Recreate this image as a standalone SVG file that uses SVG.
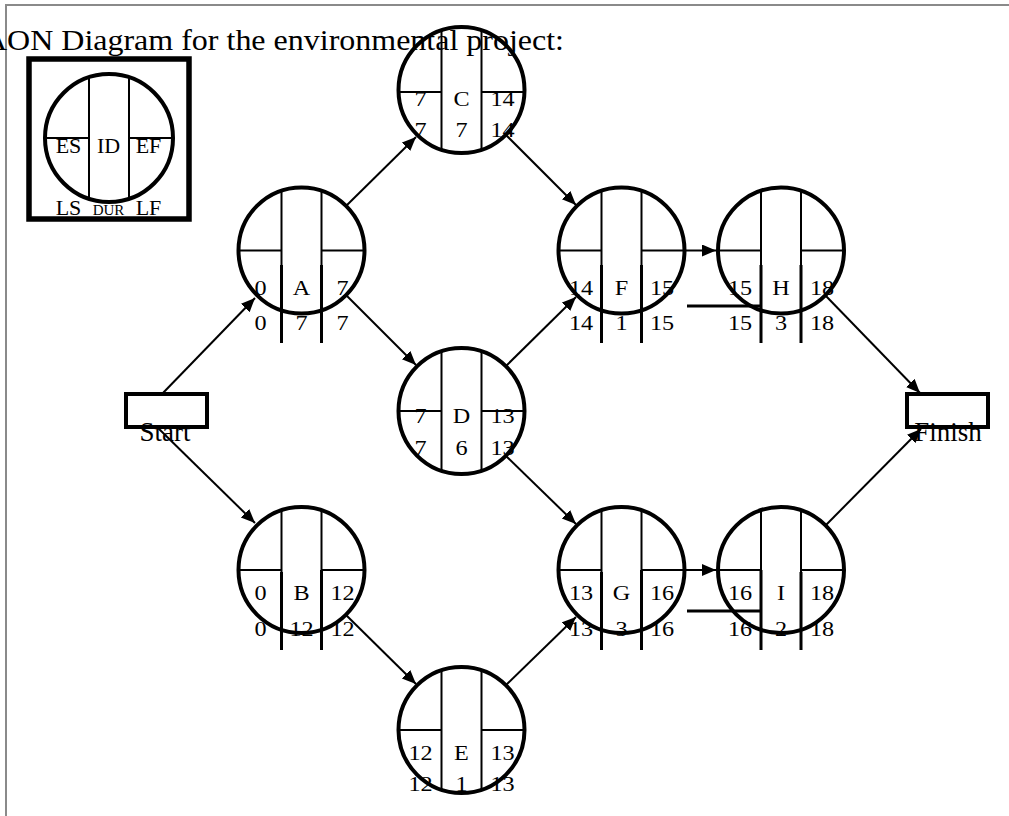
<svg xmlns="http://www.w3.org/2000/svg" width="1009" height="816" viewBox="0 0 1009 816">
<defs>
<marker id="ah" markerUnits="userSpaceOnUse" markerWidth="16" markerHeight="14" refX="14" refY="6" orient="auto">
<path d="M0,0 L14,6 L0,12 z" fill="#000"/>
</marker>
</defs>
<style>
.c{fill:none;stroke:#000;stroke-width:4}
.thin{fill:none;stroke:#000;stroke-width:2}
.thick{fill:none;stroke:#000;stroke-width:3}
.t{font-family:"Liberation Serif","Times New Roman",serif;font-size:22px;fill:#000;text-anchor:middle}
.lg{font-size:22px}
.sm{font-size:15px}
.big{font-size:27px}
.conn line{stroke:#000;stroke-width:2;marker-end:url(#ah)}
.box{fill:#fff;stroke:#000;stroke-width:4}
</style>
<rect x="0" y="0" width="1009" height="816" fill="#fff"/>
<rect x="6" y="5" width="1010" height="820" fill="none" stroke="#8a8a8a" stroke-width="2"/>
<text x="-16" y="50" font-family="'Liberation Serif','Times New Roman',serif" font-size="30" textLength="580" lengthAdjust="spacingAndGlyphs" fill="#000">AON Diagram for the environmental project:</text>

<g id="legend">
<rect x="29" y="59" width="160" height="160" fill="none" stroke="#000" stroke-width="5.5"/>
<circle class="c" cx="109" cy="138" r="64"/>
<path class="thin" d="M89,77.2V198.8M129,77.2V198.8M45,138H89M129,138H173"/>
<text class="t lg" x="68.5" y="153">ES</text>
<text class="t lg" x="108.5" y="153">ID</text>
<text class="t lg" x="148.5" y="153">EF</text>
<text class="t lg" x="68.5" y="215">LS</text>
<text class="t sm" x="108.5" y="215">DUR</text>
<text class="t lg" x="148.5" y="215">LF</text>
</g>

<g id="connectors" class="conn">
<line x1="162" y1="394" x2="255" y2="298"/>
<line x1="157" y1="427" x2="255" y2="523"/>
<line x1="346" y1="206" x2="416" y2="137"/>
<line x1="346" y1="295" x2="416" y2="365"/>
<line x1="506" y1="135" x2="576" y2="205"/>
<line x1="506" y1="366" x2="576" y2="297"/>
<line x1="506" y1="456" x2="576" y2="524"/>
<line x1="346" y1="615" x2="416" y2="684"/>
<line x1="506" y1="685" x2="576" y2="617"/>
<line x1="686" y1="250.5" x2="716" y2="250.5"/>
<line x1="686" y1="570" x2="716" y2="570"/>
<line x1="825" y1="295" x2="920" y2="393"/>
<line x1="825" y1="526" x2="921" y2="429"/>
</g>

<g id="start">
<rect class="box" x="126" y="394" width="81" height="33"/>
<text class="t big" x="165" y="441">Start</text>
</g>
<g id="finish">
<rect class="box" x="907" y="394" width="81" height="33"/>
<text class="t big" x="948" y="441">Finish</text>
</g>

<g id="node-A">
<circle class="c" cx="301.5" cy="250.5" r="63"/>
<path class="thin" d="M281.5,190.8V310.2M321.5,190.8V310.2M238.5,250.5H281.5M321.5,250.5H364.5"/>
<path class="thick" d="M281.5,265V343M321.5,265V343"/>
<g transform="translate(301.5,0) scale(1.1,1)">
<text class="t" x="-37.3" y="295">0</text><text class="t" x="0" y="295">A</text><text class="t" x="37.3" y="295">7</text>
<text class="t" x="-37.3" y="330">0</text><text class="t" x="0" y="330">7</text><text class="t" x="37.3" y="330">7</text>
</g>
</g>

<g id="node-B">
<circle class="c" cx="301.5" cy="570" r="63"/>
<path class="thin" d="M281.5,510.3V629.7M321.5,510.3V629.7M238.5,570H281.5M321.5,570H364.5"/>
<path class="thick" d="M281.5,572V650M321.5,570V650"/>
<g transform="translate(301.5,0) scale(1.1,1)">
<text class="t" x="-37.3" y="600">0</text><text class="t" x="0" y="600">B</text><text class="t" x="37.3" y="600">12</text>
<text class="t" x="-37.3" y="636">0</text><text class="t" x="0" y="636">12</text><text class="t" x="37.3" y="636">12</text>
</g>
</g>

<g id="node-C">
<circle class="c" cx="461.5" cy="90" r="63"/>
<path class="thin" d="M441.5,30.3V149.7M481.5,30.3V149.7M398.5,92H441.5M481.5,92H524.5"/>
<g transform="translate(461.5,0) scale(1.1,1)">
<text class="t" x="-37.3" y="106">7</text><text class="t" x="0" y="106">C</text><text class="t" x="37.3" y="106">14</text>
<text class="t" x="-37.3" y="137">7</text><text class="t" x="0" y="137">7</text><text class="t" x="37.3" y="137">14</text>
</g>
</g>

<g id="node-D">
<circle class="c" cx="461.5" cy="411" r="63"/>
<path class="thin" d="M441.5,351.3V470.7M481.5,351.3V470.7M398.5,411H441.5M481.5,411H524.5"/>
<g transform="translate(461.5,0) scale(1.1,1)">
<text class="t" x="-37.3" y="423">7</text><text class="t" x="0" y="423">D</text><text class="t" x="37.3" y="423">13</text>
<text class="t" x="-37.3" y="455">7</text><text class="t" x="0" y="455">6</text><text class="t" x="37.3" y="455">13</text>
</g>
</g>

<g id="node-E">
<circle class="c" cx="461.5" cy="730" r="63"/>
<path class="thin" d="M441.5,670.3V789.7M481.5,670.3V789.7M398.5,730H441.5M481.5,730H524.5"/>
<g transform="translate(461.5,0) scale(1.1,1)">
<text class="t" x="-37.3" y="760">12</text><text class="t" x="0" y="760">E</text><text class="t" x="37.3" y="760">13</text>
<text class="t" x="-37.3" y="791">12</text><text class="t" x="0" y="791">1</text><text class="t" x="37.3" y="791">13</text>
</g>
</g>

<g id="node-F">
<circle class="c" cx="621.5" cy="250.5" r="63"/>
<path class="thin" d="M601.5,190.8V310.2M641.5,190.8V310.2M558.5,250.5H601.5M641.5,250.5H684.5"/>
<path class="thick" d="M601.5,265V343M641.5,265V343"/>
<g transform="translate(621.5,0) scale(1.1,1)">
<text class="t" x="-36.8" y="295">14</text><text class="t" x="0" y="295">F</text><text class="t" x="36.8" y="295">15</text>
<text class="t" x="-36.8" y="330">14</text><text class="t" x="0" y="330">1</text><text class="t" x="36.8" y="330">15</text>
</g>
</g>

<g id="node-G">
<circle class="c" cx="621.5" cy="570" r="63"/>
<path class="thin" d="M601.5,510.3V629.7M641.5,510.3V629.7M558.5,570H601.5M641.5,570H684.5"/>
<path class="thick" d="M601.5,572V650M641.5,570V650"/>
<g transform="translate(621.5,0) scale(1.1,1)">
<text class="t" x="-36.8" y="600">13</text><text class="t" x="0" y="600">G</text><text class="t" x="36.8" y="600">16</text>
<text class="t" x="-36.8" y="636">13</text><text class="t" x="0" y="636">3</text><text class="t" x="36.8" y="636">16</text>
</g>
</g>

<g id="node-H">
<circle class="c" cx="781" cy="250.5" r="63"/>
<path class="thin" d="M761,190.8V310.2M801,190.8V310.2M718,250.5H761M801,250.5H844"/>
<path class="thick" d="M761,265V343M801,265V343M687,306H761"/>
<g transform="translate(781,0) scale(1.1,1)">
<text class="t" x="-37.3" y="295">15</text><text class="t" x="0" y="295">H</text><text class="t" x="37.3" y="295">18</text>
<text class="t" x="-37.3" y="330">15</text><text class="t" x="0" y="330">3</text><text class="t" x="37.3" y="330">18</text>
</g>
</g>

<g id="node-I">
<circle class="c" cx="781" cy="570" r="63"/>
<path class="thin" d="M761,510.3V629.7M801,510.3V629.7M718,570H761M801,570H844"/>
<path class="thick" d="M761,570V650M801,572V650M687,611H761"/>
<g transform="translate(781,0) scale(1.1,1)">
<text class="t" x="-37.3" y="600">16</text><text class="t" x="0" y="600">I</text><text class="t" x="37.3" y="600">18</text>
<text class="t" x="-37.3" y="636">16</text><text class="t" x="0" y="636">2</text><text class="t" x="37.3" y="636">18</text>
</g>
</g>
</svg>
